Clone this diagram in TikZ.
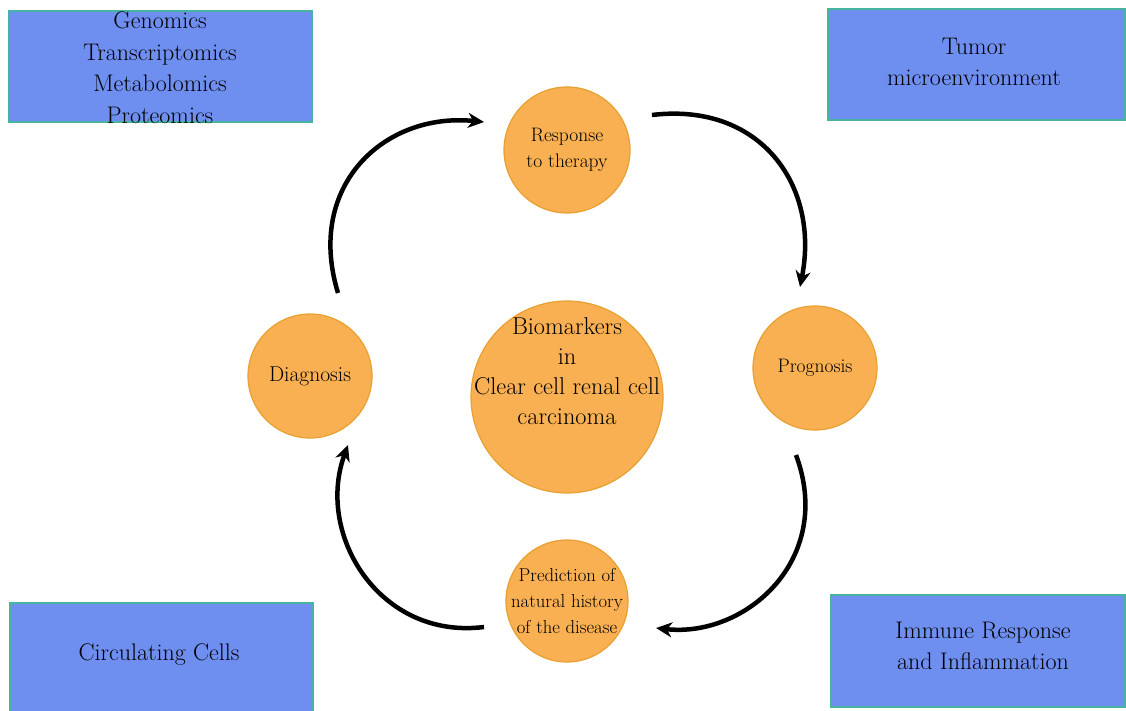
\documentclass[tikz,border=0pt]{standalone}
\usepackage{fontspec}
\usetikzlibrary{arrows.meta}
\definecolor{boxblue}{RGB}{111,143,240}
\definecolor{boxedge}{RGB}{70,180,160}
\definecolor{circfill}{RGB}{248,176,82}
\definecolor{circedge}{RGB}{232,160,50}
\tikzset{
  infobox/.style={draw=boxedge, line width=1.5pt, fill=boxblue},
  infotext/.style={align=center, font=\fontsize{24}{31.5}\selectfont, inner sep=0pt},
  stage/.style={circle, draw=circedge, line width=1.2pt, fill=circfill, minimum size=124pt, inner sep=0pt},
  stagetext/.style={align=center, inner sep=0pt, font=\fontsize{19.5}{25.5}\selectfont},
  cyc/.style={line width=4.5pt, -{Stealth[length=16pt,width=15pt,inset=5pt]}}
}
\begin{document}
\begin{tikzpicture}[x=1pt,y=-1pt]
\useasboundingbox (0,0) rectangle (1126,711);
\fill[white] (0,0) rectangle (1126,711);
% boxes
\draw[infobox] (9,11) rectangle (312,122);
\node[infotext, text width=300pt] (omics) at (160,67.5) {Genomics\\Transcriptomics\\Metabolomics\\Proteomics};
\draw[infobox] (828,9) rectangle (1125,120);
\node[infotext] (tme) at (974,62) {Tumor\\microenvironment};
\draw[infobox] (10,603) rectangle (313,712);
\node[infotext] (cc) at (159,655) {Circulating Cells};
\draw[infobox] (831,595) rectangle (1125,707);
\node[infotext] (imm) at (983,646) {Immune Response\\and Inflammation};
% circles
\node[stage, minimum size=192pt] (bio) at (567,397) {};
\node[stagetext, font=\fontsize{24.3}{30}\selectfont] (bio-t) at ([yshift=26pt]bio.center) {Biomarkers\\in\\Clear cell renal cell\\carcinoma};
\node[stage, minimum size=126pt] (resp) at (567,150) {};
\node[stagetext] (resp-t) at (resp.center) {Response\\to therapy};
\node[stage] (prog) at (815,368) {};
\node[stagetext] (prog-t) at (prog.center) {Prognosis};
\node[stage] (diag) at (310,376) {};
\node[stagetext, font=\fontsize{21.5}{25}\selectfont] (diag-t) at (diag.center) {Diagnosis};
\node[stage, minimum size=122pt] (pred) at (567,601) {};
\node[stagetext, font=\fontsize{18.7}{26}\selectfont] (pred-t) at (pred.center) {Prediction of\\natural history\\of the disease};
% cycle arrows
\coordinate (a1s) at (338,293);
\coordinate (a1e) at (484,122);
\coordinate (a2s) at (652,115);
\coordinate (a2e) at (800,287);
\coordinate (a3s) at (796,455);
\coordinate (a3e) at (656,628);
\coordinate (a4s) at (484,627);
\coordinate (a4e) at (348,445);
\draw[cyc] (a1s) .. controls (305,185) and (385,112) .. (a1e);
\draw[cyc] (a2s) .. controls (760,102) and (820,185) .. (a2e);
\draw[cyc] (a3s) .. controls (835,560) and (745,638) .. (a3e);
\draw[cyc] (a4s) .. controls (380,640) and (315,535) .. (a4e);
\end{tikzpicture}
\end{document}
